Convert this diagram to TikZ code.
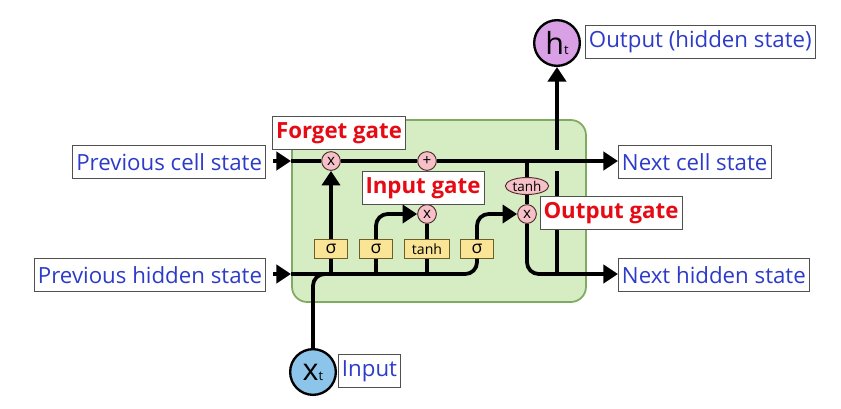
\documentclass[tikz,border=0pt]{standalone}
\usepackage{fontspec}
\setmainfont{Open Sans}
\usetikzlibrary{arrows.meta,positioning,shapes.geometric}
\pgfdeclarelayer{background}
\pgfsetlayers{background,main}
\definecolor{cellfill}{RGB}{214,237,195}
\definecolor{celledge}{RGB}{128,170,98}
\definecolor{gatefill}{RGB}{250,228,150}
\definecolor{gateedge}{RGB}{110,95,40}
\definecolor{opfill}{RGB}{246,192,200}
\definecolor{opedge}{RGB}{80,45,45}
\definecolor{htfill}{RGB}{218,160,230}
\definecolor{xtfill}{RGB}{140,196,234}
\definecolor{labelblue}{RGB}{45,60,200}
\definecolor{gatered}{RGB}{230,10,20}
\definecolor{labeledge}{RGB}{80,80,80}
\newcommand{\tsub}[1]{{\fontsize{11}{11}\selectfont #1}}

\begin{document}
\begin{tikzpicture}[
      x=0.03cm, y=-0.03cm,
      flow/.style={line width=3.2pt},
      >={Triangle[length=12.5pt,width=15.5pt]},
      cell/.style={draw=celledge,fill=cellfill,line width=1.5pt,rounded corners=13pt},
      gatebox/.style={draw=gateedge,fill=gatefill,line width=0.8pt,minimum width=28pt,
        minimum height=15.5pt,inner sep=0pt,font=\fontsize{15}{15}\selectfont},
      op/.style={circle,draw=opedge,fill=opfill,line width=0.8pt,minimum size=16pt,
        inner sep=0pt,font=\fontsize{13}{13}\selectfont},
      squash/.style={ellipse,draw=opedge,fill=opfill,line width=0.8pt,minimum width=37pt,
        minimum height=14.5pt,inner sep=0pt,font=\fontsize{11.5}{11.5}\selectfont},
      io/.style={circle,draw=black,line width=2pt,minimum size=39pt,inner sep=0pt,
        font=\fontsize{26}{26}\selectfont},
      state/.style={draw=labeledge,fill=white,line width=0.8pt,text=labelblue,
        font=\fontsize{19}{19}\selectfont,inner xsep=3pt,inner ysep=2pt,minimum height=28pt},
      gatename/.style={draw=labeledge,fill=white,line width=0.8pt,text=gatered,
        font=\fontsize{19}{19}\selectfont\bfseries,inner xsep=3pt,inner ysep=2pt,minimum height=28pt}
    ]
    \useasboundingbox (0,0) rectangle (841,408);

    % the cell
    \begin{pgfonlayer}{background}
      \draw[cell] (292,120) rectangle (586,302);
    \end{pgfonlayer}

    % pointwise operations
    \node[op] (f) at (331,161) {x};
    \node[op] (add) at (427,161) {+};
    \node[op] (i) at (427,214) {x};
    \node[op] (o) at (527,214) {x};
    \node[squash] (th) at (527,186) {tanh};

    % the layers
    \node[gatebox] (s1) at (331,249) {σ};
    \node[gatebox] (s2) at (376,249) {σ};
    \node[gatebox,minimum width=38pt,font=\fontsize{12}{12}\selectfont] (tb) at (427,249) {tanh};
    \node[gatebox] (s4) at (477,249) {σ};

    % in and out
    \node[io,fill=xtfill] (xt) at (313,372) {x\tsub{t}};
    \node[io,fill=htfill] (ht) at (557,43) {h\tsub{t}};
    \coordinate (cin) at (291,161);
    \coordinate (hin) at (291,274);
    \coordinate (xjoin) at (340,274);
    \coordinate (gapt) at (557,150);
    \coordinate (gapb) at (557,171);

    % the state labels
    \node[state,anchor=east] (pcs) at (266,162) {Previous cell state};
    \node[state,anchor=east] (phs) at (266,275) {Previous hidden state};
    \node[state,anchor=west] (ncs) at (618,162) {Next cell state};
    \node[state,anchor=west] (nhs) at (618,275) {Next hidden state};
    \node[state,anchor=west] (outl) at (585,42) {Output (hidden state)};
    \node[state,anchor=west] (inl) at (338,371) {Input};

    % the arrows
    \draw[flow,->,shorten <=6pt] (pcs.east |- cin) -- (cin);
    \draw[flow,->] (cin) -- (f) -- (add) -- (ncs.west |- cin);
    \draw[flow,->,shorten <=6pt] (phs.east |- hin) -- (hin);
    \draw[flow,rounded corners=10pt] (hin) -| (s4);
    \draw[flow,->,rounded corners=10pt] (s4) |- (o);
    \draw[flow] (s1 |- hin) -- (s1);
    \draw[flow,->] (s1) -- (f);
    \draw[flow] (s2 |- hin) -- (s2);
    \draw[flow,->,rounded corners=10pt] (s2) |- (i);
    \draw[flow] (tb |- hin) -- (tb);
    \draw[flow] (tb) -- (i);
    \draw[flow] (i) -- (add);
    \draw[flow] (o |- add) -- (th);
    \draw[flow] (th) -- (o);
    \draw[flow,->,rounded corners=10pt] (o) |- (nhs.west |- hin);
    \draw[flow] (ht |- hin) -- (gapb);
    \draw[flow,->] (gapt) -- (ht);
    \draw[flow,rounded corners=10pt] (xt) |- (xjoin);

    % the gate names
    \node[gatename] (forget) at (339,133) {Forget gate};
    \node[gatename] (input) at (423,188) {Input gate};
    \node[gatename] (output) at (611,213) {Output gate};
\end{tikzpicture}
\end{document}
